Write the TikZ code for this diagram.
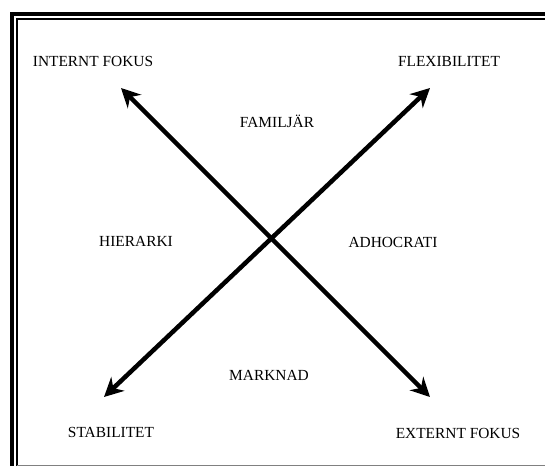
\documentclass[tikz,border=0pt]{standalone}
\usepackage{fontspec}
\setmainfont{Liberation Serif}
\usetikzlibrary{arrows.meta}
\tikzset{
  quadtext/.style = {font=\fontsize{15.4}{17}\selectfont, inner sep=0pt, anchor=base},
  poletext/.style = {quadtext},
  axis/.style     = {<->, line width=4.5pt, >={Stealth[length=19pt, width=19pt]}},
  frameouter/.style = {line width=4pt},
  frameinner/.style = {line width=2pt}
}

\begin{document}
\begin{tikzpicture}[x=1pt, y=-1pt]
  \useasboundingbox (0,0) rectangle (545,466);
  % double frame, left and top
  \draw[frameouter] (12,466) -- (12,13.7) -- (545,13.7);
  \draw[frameinner] (17,466) -- (17,19) -- (545,19);
  \draw[gray, line width=1pt] (17,465) -- (545,465);
  % arrow tips
  \coordinate (sw) at (104,397);
  \coordinate (ne) at (430,88);
  \coordinate (nw) at (121,88);
  \coordinate (se) at (430,397);
  \draw[axis] (sw) -- (ne);
  \draw[axis] (nw) -- (se);
  % poles
  \node[poletext] (intern) at (93,66)   {INTERNT FOKUS};
  \node[poletext] (flex)   at (449,66)  {FLEXIBILITET};
  \node[poletext] (stab)   at (111,437) {STABILITET};
  \node[poletext] (extern) at (458,438) {EXTERNT FOKUS};
  % quadrants
  \node[quadtext] (fam)    at (277,127) {FAMILJÄR};
  \node[quadtext] (hier)   at (136,246) {HIERARKI};
  \node[quadtext] (adho)   at (393,247) {ADHOCRATI};
  \node[quadtext] (mark)   at (269,380) {MARKNAD};
\end{tikzpicture}
\end{document}
